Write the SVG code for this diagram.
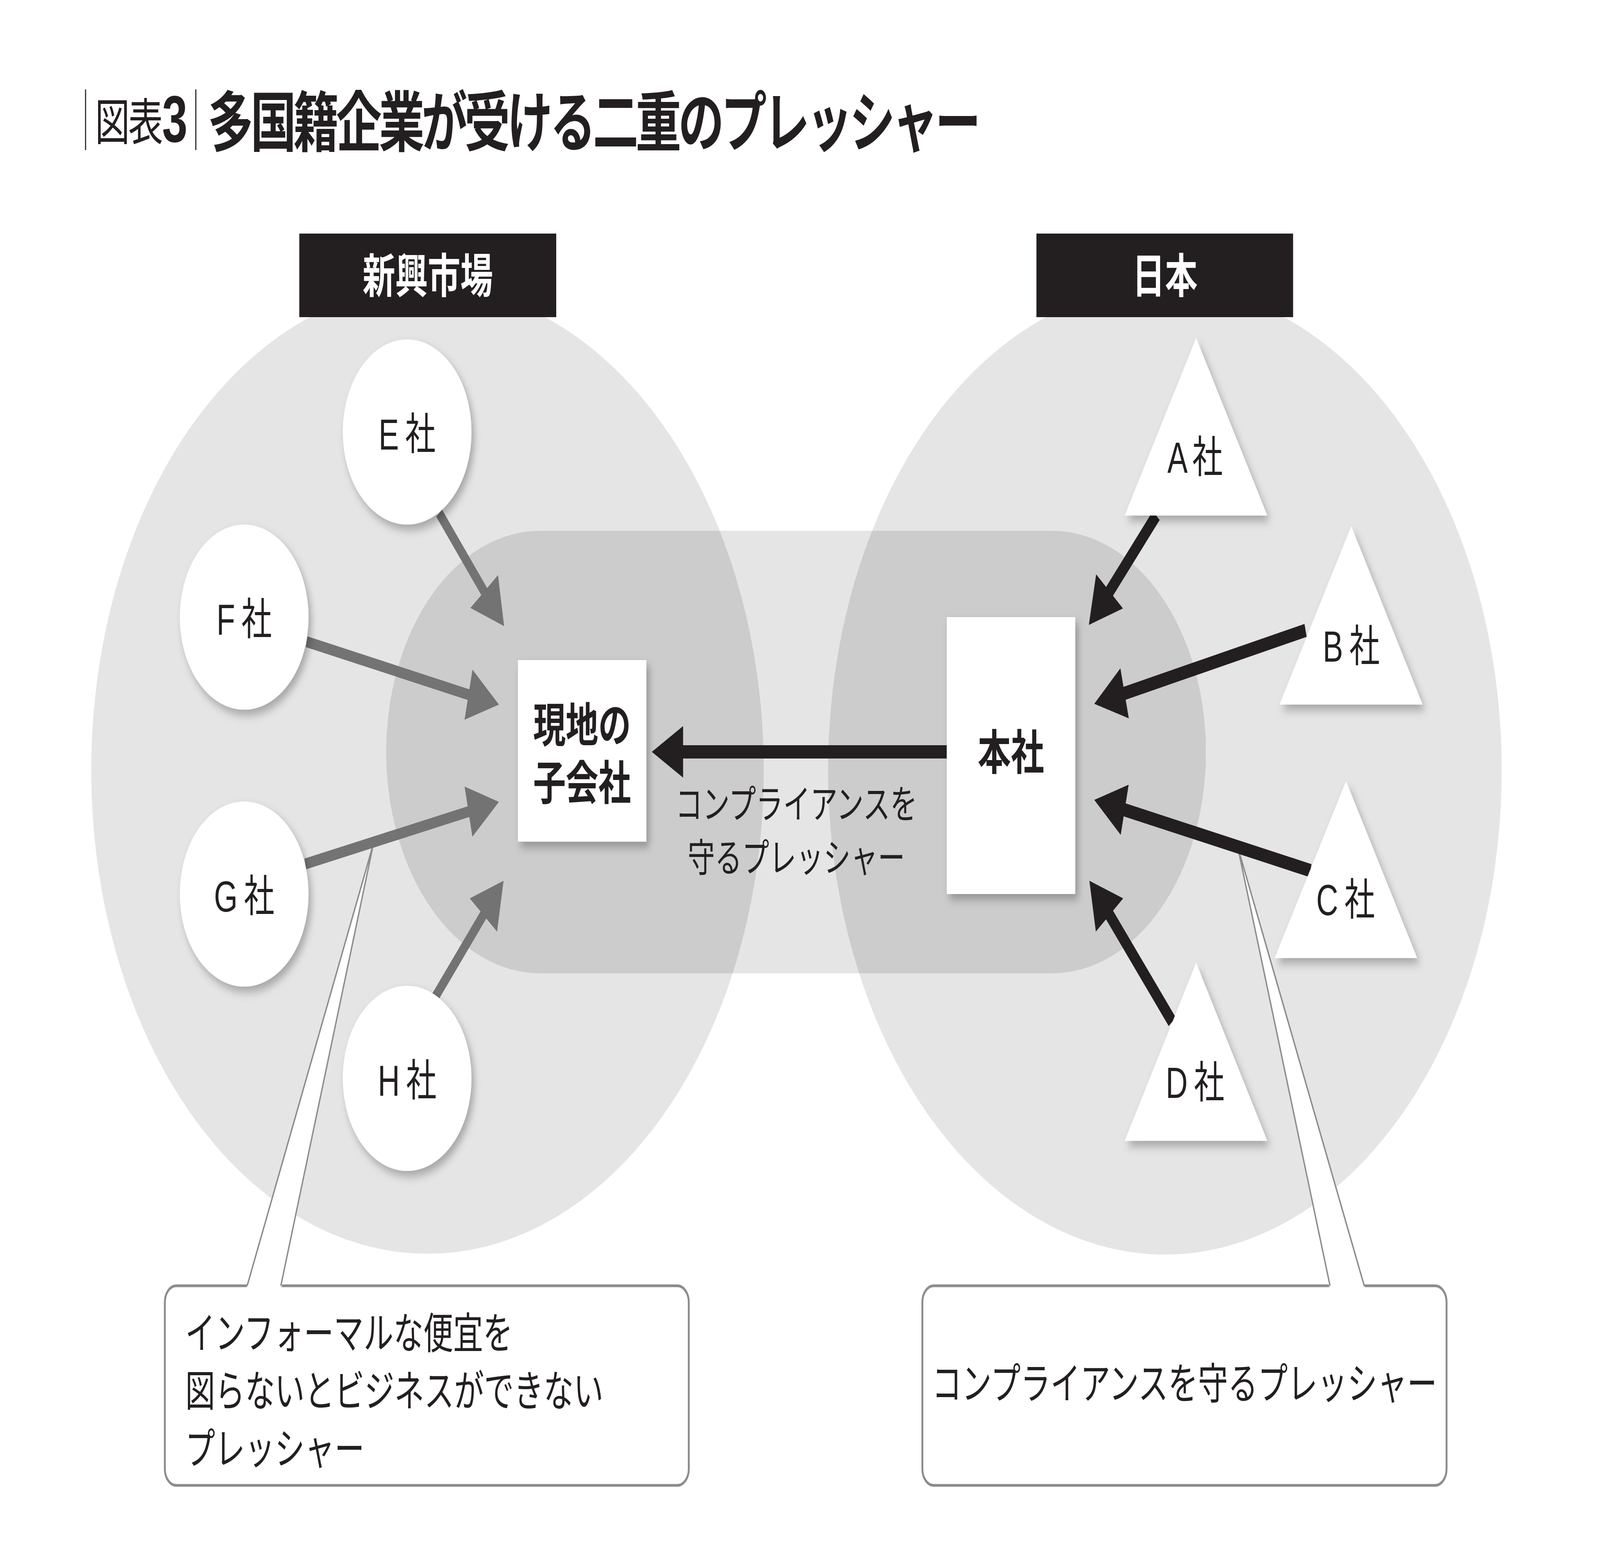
<svg xmlns="http://www.w3.org/2000/svg" width="5891" height="4012" viewBox="0 0 5891 4012" preserveAspectRatio="none" style="width:100%;height:100%">
<defs>
<style>
.jp{font-family:"Noto Sans CJK JP",sans-serif;fill:#231f20}
.lab{font-family:"Liberation Sans","Noto Sans CJK JP",sans-serif;font-size:112px;fill:#231f20;text-anchor:middle;word-spacing:-8px}
.b{font-weight:700}
.mid{text-anchor:middle}
.node{fill:#fff;filter:url(#sh)}
.hdr{fill:#231f20}
.hdrt{font-family:"Noto Sans CJK JP",sans-serif;font-weight:700;font-size:120px;fill:#fff;text-anchor:middle}
.gl{stroke:#737373;stroke-width:28;fill:none;marker-end:url(#ahG)}
.bl{stroke:#231f20;stroke-width:34;fill:none;marker-end:url(#ahB)}
.cbox{fill:#fff;stroke:#8c8c8c;stroke-width:7}
.cline{fill:none;stroke:#8c8c8c;stroke-width:5}
.ctext{font-family:"Noto Sans CJK JP",sans-serif;font-size:110px;fill:#231f20}
</style>
<filter id="sh" x="-20%" y="-20%" width="150%" height="150%">
<feDropShadow dx="10" dy="14" stdDeviation="12" flood-color="#000" flood-opacity="0.28"/>
</filter>
<marker id="ahG" markerUnits="userSpaceOnUse" viewBox="0 0 115 132" markerWidth="115" markerHeight="132" refX="55" refY="66" orient="auto">
<path d="M0,0L115,66L0,132Z" fill="#737373"/>
</marker>
<marker id="ahB" markerUnits="userSpaceOnUse" viewBox="0 0 115 132" markerWidth="115" markerHeight="132" refX="55" refY="66" orient="auto">
<path d="M0,0L115,66L0,132Z" fill="#231f20"/>
</marker>
<clipPath id="circ">
<circle cx="1574" cy="1972" r="1238"/>
<circle cx="4289" cy="1972" r="1240"/>
</clipPath>
</defs>

<rect x="0" y="0" width="5891" height="4012" fill="#fff"/>

<g id="title">
<line x1="315" y1="229" x2="315" y2="384" stroke="#231f20" stroke-width="4"/>
<text x="350" y="359" class="jp" font-size="128" letter-spacing="-6">図表</text>
<text x="597" y="363" font-family="Liberation Sans, sans-serif" font-weight="700" font-size="168" fill="#231f20">3</text>
<line x1="721" y1="229" x2="721" y2="384" stroke="#231f20" stroke-width="4"/>
<text x="765" y="374" class="jp b" font-size="168" textLength="2846" lengthAdjust="spacing">多国籍企業が受ける二重のプレッシャー</text>
</g>

<g id="regions">
<circle cx="1574" cy="1972" r="1238" fill="#e5e5e5"/>
<circle cx="4289" cy="1972" r="1240" fill="#e5e5e5"/>
<rect x="1422" y="1359" width="3018" height="1133" rx="566.5" fill="#e5e5e5"/>
<rect x="1422" y="1359" width="3018" height="1133" rx="566.5" fill="#cccccc" clip-path="url(#circ)"/>
</g>

<g id="header-emerging">
<rect x="1102" y="598" width="946" height="214" class="hdr"/>
<text x="1575" y="750" class="hdrt">新興市場</text>
</g>
<g id="header-japan">
<rect x="3816" y="598" width="945" height="214" class="hdr"/>
<text x="4289" y="750" class="hdrt">日本</text>
</g>

<g id="callout-left">
<rect x="607" y="3292" width="1929" height="511" rx="42" class="cbox"/>
<polygon points="1375,2160 908,3297 1036,3297" fill="#fff"/>
<polyline points="910,3292 1375,2160 1034,3292" class="cline"/>
<text class="ctext" x="682" y="3453">インフォーマルな便宜を</text>
<text class="ctext" x="682" y="3601">図らないとビジネスができない</text>
<text class="ctext" x="682" y="3749">プレッシャー</text>
</g>

<g id="callout-right">
<rect x="3396" y="3292" width="1930" height="511" rx="42" class="cbox"/>
<polygon points="4557,2168 4895,3297 5025,3297" fill="#fff"/>
<polyline points="4897,3292 4557,2168 5023,3292" class="cline"/>
<text class="ctext mid" x="4361" y="3582">コンプライアンスを守るプレッシャー</text>
</g>

<g id="connectors">
<line x1="1617" y1="1314" x2="1817.8" y2="1556.8" class="gl"/>
<line x1="1129" y1="1643" x2="1778.5" y2="1790.7" class="gl"/>
<line x1="1124" y1="2212" x2="1778.4" y2="2066.1" class="gl"/>
<line x1="1602" y1="2553" x2="1815.3" y2="2300.8" class="gl"/>
<line x1="4257" y1="1320" x2="4048.8" y2="1555.1" class="bl"/>
<line x1="4807" y1="1614" x2="4087.3" y2="1787.9" class="bl"/>
<line x1="4825" y1="2229" x2="4087.5" y2="2061.3" class="bl"/>
<line x1="4316" y1="2616" x2="4049.7" y2="2300.8" class="bl"/>
<line x1="3486" y1="1925" x2="2460" y2="1925" class="bl"/>
<text class="jp mid" font-size="100"><tspan x="2932" y="2095">コンプライアンスを</tspan><tspan x="2932" y="2232">守るプレッシャー</tspan></text>
</g>

<g id="node-E"><circle cx="1499" cy="1106" r="237" class="node"/><text x="1499" y="1151" class="lab">E 社</text></g>
<g id="node-F"><circle cx="899" cy="1580" r="237" class="node"/><text x="899" y="1625" class="lab">F 社</text></g>
<g id="node-G"><circle cx="899" cy="2289" r="237" class="node"/><text x="899" y="2334" class="lab">G 社</text></g>
<g id="node-H"><circle cx="1499" cy="2761" r="237" class="node"/><text x="1499" y="2806" class="lab">H 社</text></g>

<g id="node-subsidiary">
<rect x="1907" y="1690" width="473" height="465" class="node"/>
<text class="jp b mid" font-size="120"><tspan x="2143" y="1900">現地の</tspan><tspan x="2143" y="2048">子会社</tspan></text>
</g>

<g id="node-hq">
<rect x="3486" y="1580" width="473" height="709" class="node"/>
<text x="3722" y="1970" class="jp b mid" font-size="122">本社</text>
</g>

<g id="node-A"><polygon points="4404,865 4666,1320 4141,1320" class="node"/><text x="4400" y="1210" class="lab">A 社</text></g>
<g id="node-B"><polygon points="4975,1347 5238,1804 4711,1804" class="node"/><text x="4975" y="1694" class="lab">B 社</text></g>
<g id="node-C"><polygon points="4956,2000 5218,2453 4693,2453" class="node"/><text x="4954" y="2343" class="lab">C 社</text></g>
<g id="node-D"><polygon points="4404,2465 4666,2921 4141,2921" class="node"/><text x="4400" y="2811" class="lab">D 社</text></g>
</svg>
